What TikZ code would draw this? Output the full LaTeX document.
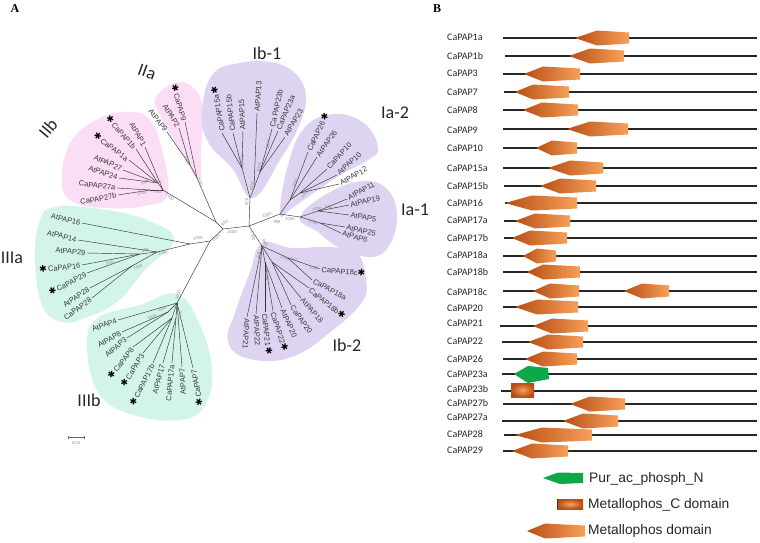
\documentclass[tikz,border=0pt]{standalone}
\usepackage{fontspec}
\setmainfont{Liberation Sans}
\newfontfamily\calfont{Carlito}
\newfontfamily\serfont{Liberation Serif}
\newfontfamily\starfont{DejaVu Sans}
\definecolor{hullpink}{RGB}{251,221,245}
\definecolor{hullpurple}{RGB}{222,212,241}
\definecolor{hullgreen}{RGB}{211,245,232}
\definecolor{domdark}{RGB}{184,78,20}
\definecolor{domlight}{RGB}{247,160,90}
\definecolor{pfamgreen}{RGB}{14,168,74}
\newcommand{\clstar}{{\color{black}\starfont\fontsize{9}{9}\selectfont ✱}}
\newcommand{\metdom}[4]{\shade[left color=domdark, right color=domlight]
  (#2,#1) -- (#3,{#1-7.5}) -- (#4,{#1-5.5}) -- (#4,{#1+5.5}) -- (#3,{#1+7.5}) -- cycle;}
\tikzset{
  branch/.style={draw=black!80, line width=0.45pt},
  leafw/.style={anchor=west, inner sep=1.5pt, text=black!78, font=\fontsize{7.5}{8}\selectfont},
  leafe/.style={leafw, anchor=east},
  bs/.style={inner sep=0pt, text=black!45, font=\fontsize{4.2}{4.2}\selectfont},
  clade/.style={inner sep=0pt, text=black!85, font=\calfont\fontsize{18}{18}\selectfont},
  panel/.style={inner sep=0pt, font=\serfont\bfseries\fontsize{12}{12}\selectfont},
  rowlab/.style={anchor=west, inner sep=0pt, text=black!85, font=\calfont\fontsize{10}{12}\selectfont},
  rowline/.style={draw=black!85, line width=1.1pt},
  legtext/.style={anchor=west, inner sep=0pt, text=black!85, font=\fontsize{13.8}{14}\selectfont}
}
\begin{document}
\begin{tikzpicture}[x=1pt, y=-1pt]
  \useasboundingbox (0,0) rectangle (760,542);

  \node[panel] (panA) at (15,9) {A};
  \node[panel] (panB) at (437,9) {B};

  % clade hulls
  \fill[hullpink] plot[smooth cycle, tension=0.7] coordinates {(62,175) (72,140) (100,118) (130,112) (150,120) (162,150) (168,192) (150,205) (105,208) (70,200)};
  \fill[hullpink] plot[smooth cycle, tension=0.7] coordinates {(178,82) (197,92) (203,115) (201,150) (199,180) (180,150) (160,115) (156,97)};
  \fill[hullpurple] plot[smooth cycle, tension=0.7] coordinates {(202,110) (213,74) (240,63) (270,62) (295,73) (306,97) (298,128) (280,160) (253,198) (232,168) (208,142)};
  \fill[hullpurple] plot[smooth cycle, tension=0.7] coordinates {(280,214) (288,165) (305,127) (335,114) (365,124) (378,148) (368,160) (340,175) (318,190) (292,208)};
  \fill[hullpurple] plot[smooth cycle, tension=0.7] coordinates {(300,217) (330,192) (365,181) (388,190) (397,215) (390,244) (372,257) (340,248) (318,232)};
  \fill[hullpurple] plot[smooth cycle, tension=0.7] coordinates {(262,243) (292,248) (330,247) (357,253) (366,280) (362,302) (333,330) (292,357) (250,359) (228,342) (236,310) (250,272)};
  \fill[hullgreen] plot[smooth cycle, tension=0.7] coordinates {(35,257) (40,220) (55,207) (100,209) (147,220) (174,240) (145,270) (117,302) (85,318) (62,322) (42,305)};
  \fill[hullgreen] plot[smooth cycle, tension=0.7] coordinates {(177,294) (200,325) (212,370) (205,405) (180,420) (130,414) (98,392) (87,345) (98,318) (140,305)};

  % clade names
  \node[clade, rotate=50] (cIIb) at (48,128) {IIb};
  \node[clade, rotate=-20] (cIIa) at (147,72) {IIa};
  \node[clade] (cIb1) at (267,53) {Ib-1};
  \node[clade] (cIa2) at (395,113) {Ia-2};
  \node[clade] (cIa1) at (415,210) {Ia-1};
  \node[clade] (cIb2) at (347,345) {Ib-2};
  \node[clade] (cIIIa) at (12,258) {IIIa};
  \node[clade] (cIIIb) at (89,400) {IIIb};

  % internal nodes of the tree
  \foreach \nm/\x/\y in {c0/210/241, c1/223/229, c2/249/226, cn/216/222,
      iib/163/190, iib1/150/190, iib2/158/183, iia/197/178, iia1/190/165,
      ib1/250/198, ib1a/242/168, ib1b/254/188, ib1c/260/172,
      ia/280/214, ia2/290/200, ia2b/300/193, ia1/300/217, ia1a/318/211, ia1b/320/223,
      ib2/262/246, ib2a/288/258, ib2b/272/262, ib2c/265/262,
      iiia/190/244, iiia2/157/252, iiia3/140/254, iiia4/132/266,
      iiib/177/303, iiib1/168/312, iiib2/172/318, iiib3/176/318}
    \coordinate (\nm) at (\x,\y);
  \foreach \a/\b in {c0/c1, c1/c2, c1/cn, cn/iib, cn/iia, iib/iib1, iib/iib2, iia/iia1,
      c2/ib1, ib1/ib1a, ib1/ib1b, ib1b/ib1c, c2/ia, ia/ia2, ia2/ia2b, ia/ia1, ia1/ia1a, ia1/ia1b,
      c2/ib2, ib2/ib2a, ib2/ib2b, ib2/ib2c, c0/iiia, iiia/iiia2, iiia2/iiia3, iiia2/iiia4,
      c0/iiib, iiib/iiib1, iiib/iiib2, iiib/iiib3}
    \draw[branch] (\a) -- (\b);

  % leaves, label ending at the tip
  \foreach \nm/\x/\y/\up/\ang/\txt in {
      CaPAP27b/118/195/iib1/11/CaPAP27b, CaPAP27a/117/188/iib1/-7/CaPAP27a,
      AtPAP24/119/178/iib2/-18/AtPAP24, AtPAP27/123/170/iib2/-25/AtPAP27,
      CaPAP1a/129/160/iib2/-37/\clstar\,CaPAP1a, CaPAP1b/136/149/iib2/-49/\clstar\,CaPAP1b,
      AtPAP1/145/147/iib/-60/AtPAP1,
      AtPAP9/167/132/iia1/-52/AtPAP9, AtPAP2/179/128/iia1/-58/AtPAP2,
      CaPAP9/185/122/iia/-74/\clstar\,CaPAP9,
      AtPAP16/82/223/iiia/-13/AtPAP16, AtPAP14/78/240/iiia2/-13/AtPAP14,
      AtPAP29/87/253/iiia3/-5/AtPAP29, CaPAP16/82/265/iiia3/6/\clstar\,CaPAP16,
      CaPAP29/87/273/iiia3/28/\clstar\,CaPAP29, AtPAP28/90/288/iiia4/34/AtPAP28,
      CaPAP28/92/298/iiia4/37/CaPAP28,
      AtPAP4/118/320/iiib/20/AtPAP4, AtPAP8/122/332/iiib1/30/AtPAP8,
      AtPAP3/127/338/iiib1/40/AtPAP3, CaPAP8/133/347/iiib2/52/\clstar\,CaPAP8,
      CaPAP3/143/353/iiib2/58/\clstar\,CaPAP3, CaPAP17b/153/363/iiib2/63/\clstar\,CaPAP17b,
      AtPAP17/163/363/iiib3/75/AtPAP17, CaPAP17a/172/363/iiib3/85/CaPAP17a,
      AtPAP7/182/367/iiib/93/AtPAP7, CaPAP7/193/368/iiib/100/\clstar\,CaPAP7}{
    \coordinate (\nm) at (\x,\y);
    \draw[branch] (\up) -- (\nm);
    \node[leafe, rotate=\ang] (t\nm) at (\nm) {\txt};
  }

  % leaves, label starting at the tip
  \foreach \nm/\x/\y/\up/\ang/\txt in {
      CaPAP15a/222/133/ib1a/100/CaPAP15a\,\clstar, CaPAP15b/233/133/ib1a/97/CaPAP15b,
      AtPAP15/243/131/ib1a/93/AtPAP15, AtPAP13/257/113/ib1b/86/AtPAP13,
      CaPAP23b/272/129/ib1c/78/Ca PAP23b, CaPAP23a/278/131/ib1c/67/CaPAP23a,
      AtPAP23/285/137/ib1c/59/AtPAP23,
      CaPAP26/308/152/ia2/65/CaPAP26\,\clstar, AtPAP26/317/157/ia2/54/AtPAP26,
      CaPAP10/327/169/ia2b/47/CaPAP10, AtPAP10/337/175/ia2b/43/AtPAP10,
      AtPAP12/339/184/ia2b/29/AtPAP12,
      AtPAP11/347/199/ia1a/29/AtPAP11, AtPAP19/349/205/ia1a/13/AtPAP19,
      AtPAP5/349/215/ia1a/-9/AtPAP5, AtPAP25/345/227/ia1b/-13/AtPAP25,
      AtPAP6/341/233/ia1b/-16/AtPAP6,
      CaPAP18c/320/269/ib2a/-5/CaPAP18c\clstar, CaPAP18a/312/280/ib2a/-28/CaPAP18a,
      CaPAP18b/309/288/ib2b/-39/CaPAP18b\clstar, AtPAP18/301/298/ib2b/-49/AtPAP18,
      CaPAP20/291/305/ib2b/-55/CaPAP20, AtPAP20/282/308/ib2c/-66/AtPAP20,
      CaPAP22/273/311/ib2c/-72/CaPAP22\clstar, CaPAP21/265/312/ib2c/-84/CaPAP21\,\clstar,
      AtPAP22/256/314/ib2/-87/AtPAP22, AtPAP21/247/317/ib2/-93/AtPAP21}{
    \coordinate (\nm) at (\x,\y);
    \draw[branch] (\up) -- (\nm);
    \node[leafw, rotate=\ang] (t\nm) at (\nm) {\txt};
  }

  % bootstrap values
  \foreach \x/\y/\a/\v [count=\i] in {225/223/30/993, 232/232/0/1000, 198/238/10/1000, 216/238/45/1000,
      253/236/-75/1000, 267/215/15/1000, 277/222/0/999, 290/219/0/1000,
      247/202/90/978, 252/187/80/1000, 242/160/80/1000, 268/145/80/1000, 259/168/80/1000,
      295/183/60/1000, 305/194/50/1000, 317/209/10/1000, 328/207/0/728, 313/222/-20/1000,
      265/243/-60/995, 259/256/-80/980, 285/258/-20/1000, 294/260/-10/997, 314/268/-10/1000, 267/276/-80/1000,
      145/250/10/989, 163/253/10/1000, 110/263/10/1000, 138/267/20/1000,
      178/295/75/1000, 162/309/20/1000, 152/317/20/1000, 180/316/80/1000,
      145/182/30/1000, 157/182/0/1000, 158/192/0/993, 142/193/10/1000, 170/197/-45/1000,
      187/160/-70/1000, 200/182/-70/1000}
    \node[bs, rotate=\a] (bs\i) at (\x,\y) {\v};

  % scale bar
  \coordinate (sb1) at (68,437);
  \coordinate (sb2) at (84,437);
  \draw[black!60, line width=0.5pt] (sb1) -- (sb2);
  \draw[black!60, line width=0.5pt] ([yshift=1.5pt]sb1) -- ([yshift=-1.5pt]sb1);
  \draw[black!60, line width=0.5pt] ([yshift=1.5pt]sb2) -- ([yshift=-1.5pt]sb2);
  \node[bs] (sblab) at (76,443) {0.05};

  % panel B: protein lines
  \foreach \nm/\ly/\y/\xs in {CaPAP1a/37/38/503, CaPAP1b/56/56/505, CaPAP3/73/74/503,
      CaPAP7/92/92/504, CaPAP8/110/110/503, CaPAP9/130/129/503, CaPAP10/148/148/503,
      CaPAP15a/168/168/503, CaPAP15b/186/186/504, CaPAP16/203/203/505, CaPAP17a/220/221/504,
      CaPAP17b/238/238/504, CaPAP18a/255/256/503, CaPAP18b/272/272/503, CaPAP18c/292/291/503,
      CaPAP20/308/307/503, CaPAP21/323/326/500, CaPAP22/341/342/502, CaPAP26/359/359/503,
      CaPAP23a/374/374/502, CaPAP23b/389/391/501, CaPAP27b/403/404/503, CaPAP27a/417/421/502,
      CaPAP28/434/435/504, CaPAP29/450/451/503}{
    \node[rowlab] (lab\nm) at (447,\ly) {\nm};
    \coordinate (s\nm) at (\xs,\y);
    \coordinate (e\nm) at (757,\y);
    \draw[rowline] (s\nm) -- (e\nm);
  }

  % Metallophos domains
  \metdom{38}{575}{597}{629}
  \metdom{56}{569}{590}{624}
  \metdom{74}{524}{543}{580}
  \metdom{92}{515}{533}{569}
  \metdom{110}{523}{542}{578}
  \metdom{129}{567}{590}{628}
  \metdom{148}{536}{552}{577}
  \metdom{168}{548}{570}{603}
  \metdom{186}{540}{560}{596}
  \metdom{203}{505}{532}{577}
  \metdom{221}{515}{535}{570}
  \metdom{238}{512}{530}{567}
  \metdom{256}{523}{537}{556}
  \metdom{272}{527}{543}{580}
  \metdom{291}{533}{550}{579}
  \metdom{291}{624}{642}{669}
  \metdom{307}{515}{537}{578}
  \metdom{326}{533}{552}{588}
  \metdom{342}{528}{548}{583}
  \metdom{359}{525}{543}{577}
  \metdom{404}{570}{590}{625}
  \metdom{421}{563}{583}{618}
  \metdom{435}{515}{542}{592}
  \metdom{451}{512}{532}{568}
  % Pur_ac_phosph_N and Metallophos_C
  \fill[pfamgreen] (514,374) -- (528,366) -- (548,368) -- (549,379) -- (528,383) -- cycle;
  \shade[inner color=domlight, outer color=domdark] (511,383) rectangle (534,397);

  % legend
  \fill[pfamgreen] (543,478) -- (558,472.5) -- (583,473) -- (583,483) -- (560,484) -- cycle;
  \node[legtext] (legN) at (589,479) {Pur\_ac\_phosph\_N};
  \shade[inner color=domlight, outer color=domdark] (557,499) rectangle (583,509);
  \draw[black!80, line width=1pt] (557.5,499) -- (557.5,509);
  \node[legtext] (legC) at (588,505) {Metallophos\_C domain};
  \metdom{531}{527}{545}{585}
  \node[legtext] (legM) at (588,531) {Metallophos domain};
\end{tikzpicture}
\end{document}
